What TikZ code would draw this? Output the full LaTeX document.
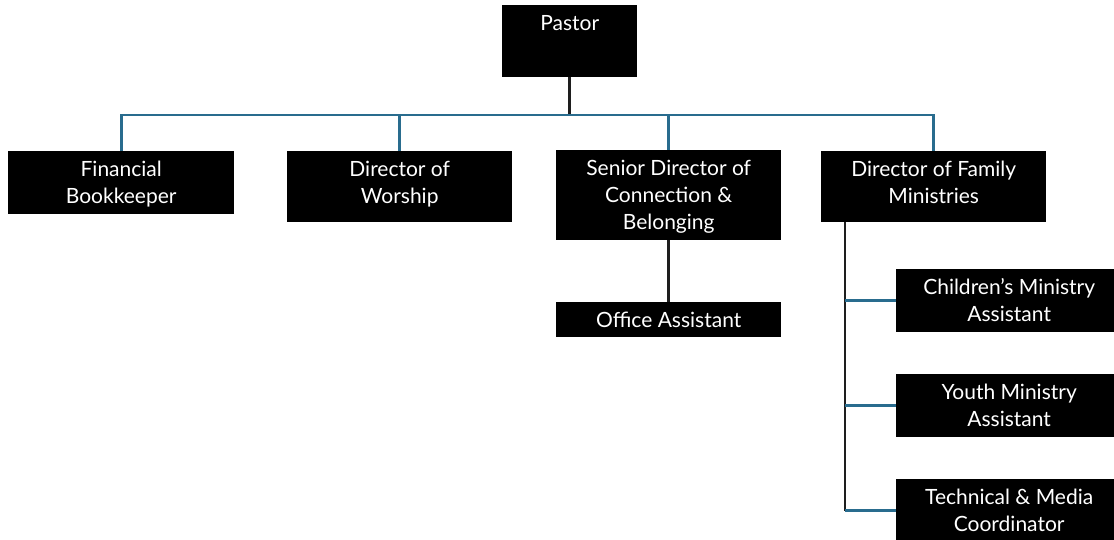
\documentclass[tikz,border=0pt]{standalone}
\usepackage{fontspec}
\setmainfont{Lato}
\usepackage{tikz}

%% colours of the connector lines
\definecolor{orgblue}{RGB}{41,108,142}
\definecolor{orgdark}{RGB}{30,30,30}

%% text of a box: fixed height and width, lines start from the top
\newcommand{\boxtext}[3]{\parbox[t][#1][t]{#2}{\centering\rule{0pt}{25pt}#3}}

\tikzset{
    rolebox/.style={fill=black, text=white, inner sep=0pt, anchor=north west,
        font=\fontsize{21}{27}\selectfont},
    blueline/.style={draw=orgblue, line width=2.8pt},
    darkline/.style={draw=orgdark, line width=2.8pt}
}

\begin{document}
\begin{tikzpicture}[x=1pt, y=-1pt]
    \useasboundingbox (0,0) rectangle (1114,540);
    %% top of the chart
        \node[rolebox] (pastor) at (502,5) {\boxtext{72pt}{135pt}{Pastor}};
    %% first row below the pastor
        \node[rolebox] (fin) at (8,151) {\boxtext{63pt}{226pt}{Financial\\Bookkeeper}};
        \node[rolebox] (wor) at (287,151) {\boxtext{71pt}{225pt}{Director of\\Worship}};
        \node[rolebox] (sen) at (556,150) {\boxtext{90pt}{225pt}{Senior Director of\\Connection \&\\Belonging}};
        \node[rolebox] (fam) at (821,151) {\boxtext{71pt}{225pt}{Director of Family\\Ministries}};
    %% second level (the right column runs past the page edge)
        \node[rolebox] (off) at (556,302) {\boxtext{35pt}{225pt}{Office Assistant}};
        \node[rolebox] (kid) at (896,269) {\boxtext{63pt}{226pt}{Children’s Ministry\\Assistant}};
        \node[rolebox] (yth) at (896,374) {\boxtext{63pt}{226pt}{Youth Ministry\\Assistant}};
        \node[rolebox] (tech) at (896,479) {\boxtext{63pt}{226pt}{Technical \& Media\\Coordinator}};
    %% the bus line and the trunk on the right
        \coordinate (bus) at (0,115);
        \coordinate (trunk) at (845,0);
    %% connectors
        \draw[darkline] (pastor.south) -- (pastor.south |- bus);
        \draw[blueline] (fin.north) |- (bus -| fam.north) -- (fam.north);
        \draw[blueline] (wor.north) -- (wor.north |- bus);
        \draw[blueline] (sen.north) -- (sen.north |- bus);
        \draw[darkline] (sen.south) -- (off.north);
        \draw[darkline] (trunk |- fam.south) -- (trunk |- tech.west);
        \draw[blueline] (trunk |- kid.west) -- (kid.west);
        \draw[blueline] (trunk |- yth.west) -- (yth.west);
        \draw[blueline] (trunk |- tech.west) -- (tech.west);
\end{tikzpicture}
\end{document}
